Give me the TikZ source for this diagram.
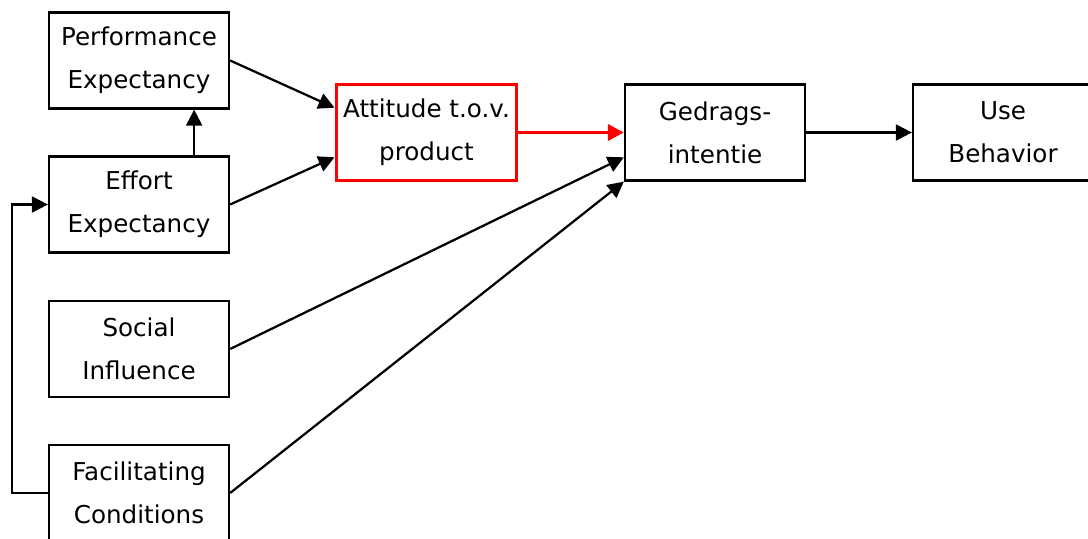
\documentclass[tikz,border=0pt]{standalone}
\usepackage{fontspec}
\setmainfont{DejaVu Sans}
\usetikzlibrary{arrows.meta}
\begin{document}
\begin{tikzpicture}[x=0.025cm,y=-0.025cm,
  box/.style={draw,line width=1.6pt,align=center,inner sep=0pt,minimum width=4.5cm,minimum height=2.4cm,font=\fontsize{17.5}{30.6}\selectfont},
  redbox/.style={box,draw=red,line width=2.8pt},
  link/.style={line width=1.6pt,-{Triangle[length=0.4cm,width=0.4cm]}}]
\useasboundingbox (0,0) rectangle (1088,539);
\clip (0,0) rectangle (1088,539);
\node[box] (pe) at (139,60.5){Performance\\Expectancy};
\node[box] (ee) at (139,204.5){Effort\\Expectancy};
\node[box] (si) at (139,349){Social\\Influence};
\node[box] (fc) at (139,493){Facilitating\\Conditions};
\node[redbox] (att) at (426.5,132.5){Attitude t.o.v.\\product};
\node[box] (gi) at (715,132.5){Gedrags-\\intentie};
\node[box] (ub) at (1003,132.5){Use\\Behavior};

\draw[link] (pe.east) -- ([yshift=0.62cm]att.west);
\draw[link] (ee.east) -- ([yshift=-0.62cm]att.west);
\draw[link] (ee.north east) ++(-0.9cm,0) -- ([xshift=-0.9cm]pe.south east);
\draw[link,draw=red,fill=red,line width=2.6pt] (att.east) -- (gi.west);
\draw[link] (si.east) -- ([yshift=-0.62cm]gi.west);
\draw[link] (fc.east) -- (gi.south west);
\draw[link] (gi.east) -- (ub.west);
\draw[link] (fc.west) -- ++(-36,0) |- (ee.west);
\end{tikzpicture}
\end{document}
